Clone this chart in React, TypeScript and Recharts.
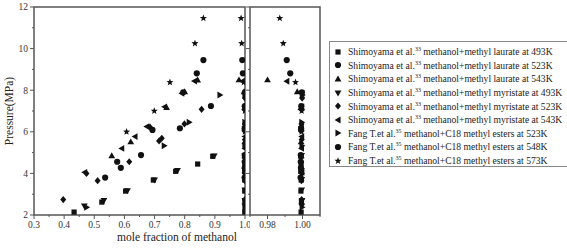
import React from "react";
import { ScatterChart, Scatter, XAxis, YAxis, ReferenceArea } from "recharts";

type Pt = { x: number; y: number };

// liquid-phase points first, then the vapour-phase points close to x = 1
const laurate493: Pt[] = [
  { x: 0.433, y: 2.14 }, { x: 0.525, y: 2.62 }, { x: 0.604, y: 3.15 }, { x: 0.696, y: 3.68 },
  { x: 0.77, y: 4.1 }, { x: 0.843, y: 4.45 }, { x: 0.893, y: 4.82 },
  { x: 0.9992, y: 2.14 }, { x: 0.9994, y: 2.62 }, { x: 0.9991, y: 3.15 }, { x: 0.9993, y: 3.68 },
  { x: 0.999, y: 4.1 }, { x: 0.9992, y: 4.45 }, { x: 0.9991, y: 4.82 },
];
const laurate523: Pt[] = [
  { x: 0.536, y: 3.8 }, { x: 0.588, y: 4.27 }, { x: 0.655, y: 4.88 }, { x: 0.784, y: 6.17 }, { x: 0.887, y: 7.24 },
  { x: 0.9989, y: 3.8 }, { x: 0.9991, y: 4.27 }, { x: 0.999, y: 4.88 }, { x: 0.9992, y: 6.17 }, { x: 0.9993, y: 7.24 },
];
const laurate543: Pt[] = [
  { x: 0.558, y: 4.85 }, { x: 0.621, y: 5.52 }, { x: 0.74, y: 7.17 }, { x: 0.8, y: 7.93 }, { x: 0.843, y: 8.49 },
  { x: 0.98, y: 8.5 },
  { x: 0.9993, y: 4.85 }, { x: 0.9992, y: 5.52 }, { x: 0.9991, y: 7.17 }, { x: 0.997, y: 7.93 },
];
const myristate493: Pt[] = [
  { x: 0.467, y: 2.43 }, { x: 0.532, y: 2.69 }, { x: 0.61, y: 3.16 }, { x: 0.7, y: 3.68 }, { x: 0.776, y: 4.14 },
  { x: 0.898, y: 4.84 },
  { x: 0.9996, y: 2.43 }, { x: 0.9997, y: 2.69 }, { x: 0.9995, y: 3.2 }, { x: 0.9996, y: 3.7 },
  { x: 0.9994, y: 4.14 }, { x: 0.9995, y: 4.86 },
];
const myristate523: Pt[] = [
  { x: 0.397, y: 2.74 }, { x: 0.474, y: 4.0 }, { x: 0.511, y: 3.65 }, { x: 0.616, y: 4.56 }, { x: 0.685, y: 6.22 },
  { x: 0.715, y: 5.56 }, { x: 0.724, y: 5.69 }, { x: 0.799, y: 6.38 }, { x: 0.856, y: 7.08 },
  { x: 0.9995, y: 2.74 }, { x: 0.9994, y: 3.65 }, { x: 0.9996, y: 4.0 }, { x: 0.9993, y: 4.56 },
  { x: 0.9995, y: 5.62 }, { x: 0.9994, y: 6.38 }, { x: 0.9996, y: 7.08 }, { x: 0.9998, y: 7.62 },
];
const myristate543: Pt[] = [
  { x: 0.468, y: 4.05 }, { x: 0.591, y: 5.2 }, { x: 0.635, y: 5.77 }, { x: 0.674, y: 6.25 }, { x: 0.733, y: 7.2 },
  { x: 0.79, y: 7.85 }, { x: 0.832, y: 8.44 }, { x: 0.991, y: 8.43 },
  { x: 0.9996, y: 4.05 }, { x: 0.9994, y: 5.2 }, { x: 0.9995, y: 5.77 }, { x: 0.9993, y: 6.25 },
  { x: 0.9995, y: 7.2 }, { x: 0.9997, y: 7.85 },
];
const fang523: Pt[] = [
  { x: 0.475, y: 2.37 }, { x: 0.732, y: 5.33 }, { x: 0.815, y: 6.46 }, { x: 0.917, y: 7.77 },
  { x: 0.9998, y: 2.37 }, { x: 0.9997, y: 5.33 }, { x: 0.9996, y: 6.46 }, { x: 0.9999, y: 7.77 },
];
const fang548: Pt[] = [
  { x: 0.576, y: 4.56 }, { x: 0.693, y: 6.09 }, { x: 0.795, y: 7.9 }, { x: 0.84, y: 8.81 }, { x: 0.862, y: 9.45 },
  { x: 0.993, y: 8.81 }, { x: 0.991, y: 9.45 },
  { x: 0.999, y: 4.56 }, { x: 0.9992, y: 6.09 }, { x: 0.9996, y: 7.9 },
];
const fang573: Pt[] = [
  { x: 0.607, y: 6.0 }, { x: 0.699, y: 7.0 }, { x: 0.751, y: 8.38 }, { x: 0.834, y: 10.25 }, { x: 0.862, y: 11.46 },
  { x: 0.987, y: 11.46 }, { x: 0.989, y: 10.25 }, { x: 0.996, y: 8.38 },
  { x: 0.9994, y: 6.0 }, { x: 0.9995, y: 7.0 },
];

const leftXTicks = [0.3, 0.35, 0.4, 0.45, 0.5, 0.55, 0.6, 0.65, 0.7, 0.75, 0.8, 0.85, 0.9, 0.95, 1.0];
const leftXMajors = [0.3, 0.4, 0.5, 0.6, 0.7, 0.8, 0.9, 1.0];
const rightXTicks = [0.97, 0.98, 0.99, 1.0, 1.01];
const rightXMajors = [0.98, 1.0];
const yTicks = [2, 3, 4, 5, 6, 7, 8, 9, 10, 11, 12];
const yMajors = [2, 4, 6, 8, 10, 12];

const series = [
  { author: "Shimoyama et al.", ref: "33", desc: "methanol+methyl laurate at 493K", kind: "square", data: laurate493 },
  { author: "Shimoyama et al.", ref: "33", desc: "methanol+methyl laurate at 523K", kind: "circle", data: laurate523 },
  { author: "Shimoyama et al.", ref: "33", desc: "methanol+methyl laurate at 543K", kind: "up", data: laurate543 },
  { author: "Shimoyama et al.", ref: "33", desc: "methanol+methyl myristate at 493K", kind: "down", data: myristate493 },
  { author: "Shimoyama et al.", ref: "33", desc: "methanol+methyl myristate at 523K", kind: "diamond", data: myristate523 },
  { author: "Shimoyama et al.", ref: "33", desc: "methanol+methyl myristate at 543K", kind: "left", data: myristate543 },
  { author: "Fang T.et al.", ref: "35", desc: "methanol+C18 methyl esters at 523K", kind: "right", data: fang523 },
  { author: "Fang T.et al.", ref: "35", desc: "methanol+C18 methyl esters at 548K", kind: "circle", data: fang548 },
  { author: "Fang T.et al.", ref: "35", desc: "methanol+C18 methyl esters at 573K", kind: "star", data: fang573 },
];

const FONT = "'Liberation Serif', 'DejaVu Serif', serif";
const INK = "#111";
const AXIS = "#555";

function Marker({ kind, cx, cy }: { kind: string; cx: number; cy: number }) {
  const r = 3.4;
  switch (kind) {
    case "square":
      return <rect x={cx - 2.6} y={cy - 2.6} width={5.2} height={5.2} fill={INK} />;
    case "circle":
      return <circle cx={cx} cy={cy} r={3.1} fill={INK} />;
    case "up":
      return <path d={`M${cx},${cy - r}L${cx + r},${cy + r * 0.75}L${cx - r},${cy + r * 0.75}Z`} fill={INK} />;
    case "down":
      return <path d={`M${cx},${cy + r}L${cx + r},${cy - r * 0.75}L${cx - r},${cy - r * 0.75}Z`} fill={INK} />;
    case "left":
      return <path d={`M${cx - r},${cy}L${cx + r * 0.75},${cy - r}L${cx + r * 0.75},${cy + r}Z`} fill={INK} />;
    case "right":
      return <path d={`M${cx + r},${cy}L${cx - r * 0.75},${cy - r}L${cx - r * 0.75},${cy + r}Z`} fill={INK} />;
    case "diamond":
      return <path d={`M${cx},${cy - 3.6}L${cx + 3},${cy}L${cx},${cy + 3.6}L${cx - 3},${cy}Z`} fill={INK} />;
    default: {
      let d = "";
      for (let i = 0; i < 10; i++) {
        const rad = i % 2 === 0 ? 3.7 : 1.6;
        const a = -Math.PI / 2 + (i * Math.PI) / 5;
        d += `${i === 0 ? "M" : "L"}${cx + rad * Math.cos(a)},${cy + rad * Math.sin(a)}`;
      }
      return <path d={d + "Z"} fill={INK} />;
    }
  }
}

const isIn = (list: number[], v: number) => list.some((m) => Math.abs(m - v) < 1e-6);

function XTick(props: any) {
  const { x, y, payload, majors, digits } = props;
  const v = payload.value;
  const major = isIn(majors, v);
  return (
    <g>
      <line x1={x} y1={y} x2={x} y2={y + (major ? 4 : 2)} stroke={AXIS} strokeWidth={1} />
      {major && (
        <text x={x} y={y + 13} textAnchor="middle" fontSize={9.5} fontFamily={FONT} fill="#333">
          {v.toFixed(digits)}
        </text>
      )}
    </g>
  );
}

function YTick(props: any) {
  const { x, y, payload, showLabel } = props;
  const v = payload.value;
  const major = isIn(yMajors, v);
  return (
    <g>
      <line x1={x} y1={y} x2={x - (major ? 4 : 2)} y2={y} stroke={AXIS} strokeWidth={1} />
      {major && showLabel && (
        <text x={x - 6} y={y + 3.3} textAnchor="end" fontSize={9.5} fontFamily={FONT} fill="#333">
          {v}
        </text>
      )}
    </g>
  );
}

function Panel({ domain, ticks, majors, digits, width, yLabel }: any) {
  const [lo, hi] = domain;
  return (
    <ScatterChart width={width} height={250} margin={{ top: 7, right: 5, bottom: 15, left: 0 }}>
      <XAxis
        type="number"
        dataKey="x"
        domain={domain}
        ticks={ticks}
        interval={0}
        allowDataOverflow
        axisLine={false}
        tickLine={false}
        tickSize={0}
        tickMargin={0}
        height={20}
        tick={(p: any) => <XTick {...p} majors={majors} digits={digits} />}
      />
      <YAxis
        type="number"
        dataKey="y"
        domain={[2, 12]}
        ticks={yTicks}
        interval={0}
        allowDataOverflow
        axisLine={false}
        tickLine={false}
        tickSize={0}
        tickMargin={0}
        width={yLabel ? 34 : 5}
        tick={(p: any) => <YTick {...p} showLabel={yLabel} />}
        label={
          yLabel
            ? {
                value: "Pressure(MPa)",
                angle: -90,
                position: "insideLeft",
                offset: 9,
                style: { textAnchor: "middle", fontFamily: FONT, fontSize: 11.5, fill: "#222" },
              }
            : undefined
        }
      />
      <ReferenceArea x1={lo} x2={hi} y1={2} y2={12} fill="none" stroke={AXIS} strokeWidth={1.5} />
      {series.map((s, i) => (
        <Scatter
          key={i}
          data={s.data.filter((p) => p.x >= lo && p.x <= hi)}
          isAnimationActive={false}
          shape={(p: any) => <Marker kind={s.kind} cx={p.cx} cy={p.cy} />}
        />
      ))}
    </ScatterChart>
  );
}

export default function App() {
  return (
    <div
      style={{
        position: "absolute",
        left: 0,
        top: 0,
        width: 567,
        height: 250,
        overflow: "hidden",
        background: "#fff",
        fontFamily: FONT,
      }}
    >
      <div style={{ position: "absolute", left: 0, top: 0 }}>
        <Panel domain={[0.3, 1.0]} ticks={leftXTicks} majors={leftXMajors} digits={1} width={250} yLabel />
      </div>
      <div style={{ position: "absolute", left: 245, top: 0 }}>
        <Panel domain={[0.97, 1.01]} ticks={rightXTicks} majors={rightXMajors} digits={2} width={80} yLabel={false} />
      </div>
      <div
        style={{
          position: "absolute",
          left: 177,
          top: 231,
          transform: "translateX(-50%)",
          whiteSpace: "nowrap",
          fontSize: 11.5,
          lineHeight: "13px",
          color: "#222",
        }}
      >
        mole fraction of methanol
      </div>
      <div
        style={{
          position: "absolute",
          left: 329,
          top: 41,
          width: 250,
          height: 126,
          boxSizing: "border-box",
          border: "1px solid #888",
          paddingTop: 3,
        }}
      >
        {series.map((s, i) => (
          <div key={i} style={{ display: "flex", alignItems: "center", height: 13.6, fontSize: 9.6, color: "#222", whiteSpace: "nowrap" }}>
            <svg width={10} height={10} style={{ marginLeft: 3, marginRight: 5, flex: "none" }}>
              <Marker kind={s.kind} cx={5} cy={5} />
            </svg>
            <span>
              {s.author}
              <sup style={{ fontSize: 6, lineHeight: 0, verticalAlign: "4px" }}>{s.ref}</sup> {s.desc}
            </span>
          </div>
        ))}
      </div>
    </div>
  );
}
